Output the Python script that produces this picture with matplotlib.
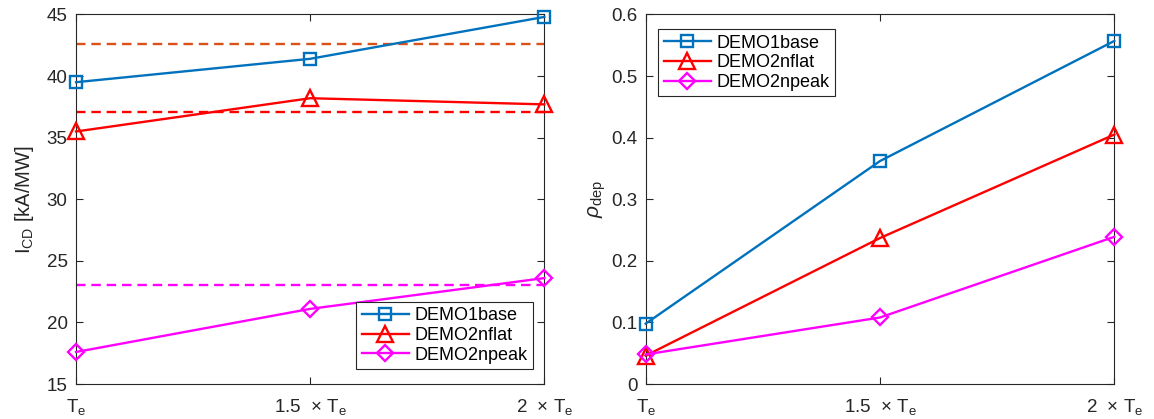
import matplotlib
matplotlib.use('Agg')
import matplotlib.pyplot as plt
import numpy as np

plt.rcParams['font.family'] = ['Liberation Sans', 'DejaVu Sans']
plt.rcParams['mathtext.fontset'] = 'custom'
plt.rcParams['mathtext.rm'] = 'Liberation Sans'
plt.rcParams['mathtext.it'] = 'Liberation Sans:italic'

# data
x = [1, 1.5, 2]
xtick_labels = [r'T$_\mathrm{e}$', r'1.5  $\times$ T$_\mathrm{e}$', r'2  $\times$ T$_\mathrm{e}$']
series = ['DEMO1base', 'DEMO2nflat', 'DEMO2npeak']
icd = {
    'DEMO1base': [39.5, 41.4, 44.8],
    'DEMO2nflat': [35.5, 38.2, 37.7],
    'DEMO2npeak': [17.6, 21.1, 23.6],
}
icd_ref = {
    'DEMO1base': 42.6,
    'DEMO2nflat': 37.1,
    'DEMO2npeak': 23.0,
}
rho = {
    'DEMO1base': [0.098, 0.362, 0.557],
    'DEMO2nflat': [0.046, 0.237, 0.405],
    'DEMO2npeak': [0.048, 0.108, 0.239],
}

colors = {'DEMO1base': '#0072BD', 'DEMO2nflat': '#FF0000', 'DEMO2npeak': '#FF00FF'}
ref_colors = {'DEMO1base': '#D95319', 'DEMO2nflat': '#FF0000', 'DEMO2npeak': '#FF00FF'}
markers = {'DEMO1base': 's', 'DEMO2nflat': '^', 'DEMO2npeak': 'D'}
msize = {'DEMO1base': 9, 'DEMO2nflat': 11, 'DEMO2npeak': 8}

axcol = '#262626'


def style_axes(ax):
    for s in ax.spines.values():
        s.set_color(axcol)
        s.set_linewidth(0.8)
    ax.tick_params(direction='in', top=True, right=True, length=5, width=0.8,
                   colors=axcol, labelsize=13.5, labelcolor=axcol, pad=6)
    ax.tick_params(axis='x', pad=9)
    ax.set_xlim(1, 2)
    ax.set_xticks(x)
    ax.set_xticklabels(xtick_labels)


fig = plt.figure(figsize=(11.54, 4.19), dpi=100)
ax1 = fig.add_axes([0.0659, 0.0835, 0.4058, 0.882])
ax2 = fig.add_axes([0.5595, 0.0835, 0.4061, 0.882])

for name in series:
    ax1.plot(x, icd[name], color=colors[name], lw=1.7, marker=markers[name],
             ms=msize[name], mfc='none', mew=1.7, label=name, clip_on=False, zorder=3)
for name in series:
    ax1.plot([1, 2], [icd_ref[name]] * 2, color=ref_colors[name], lw=1.7,
             ls=(0, (4, 2.5)), zorder=2)
ax1.set_ylim(15, 45)
ax1.set_yticks(np.arange(15, 46, 5))
ax1.set_ylabel(r'I$_\mathrm{CD}$ [kA/MW]', fontsize=14.5, color=axcol, labelpad=8)
style_axes(ax1)
leg1 = ax1.legend(loc='lower right', bbox_to_anchor=(0.975, 0.04), fontsize=13,
                  fancybox=False, edgecolor=axcol, framealpha=1, borderpad=0.3,
                  labelspacing=0.15, handlelength=2.6, handletextpad=0.3,
                  borderaxespad=0)
leg1.get_frame().set_linewidth(0.8)

for name in series:
    ax2.plot(x, rho[name], color=colors[name], lw=1.7, marker=markers[name],
             ms=msize[name], mfc='none', mew=1.7, label=name, clip_on=False, zorder=3)
ax2.set_ylim(0, 0.6)
ax2.set_yticks(np.arange(0, 0.61, 0.1))
ax2.set_yticklabels(['0', '0.1', '0.2', '0.3', '0.4', '0.5', '0.6'])
ax2.set_ylabel(r'$\rho_\mathrm{dep}$', fontsize=15, color=axcol, labelpad=2)
style_axes(ax2)
leg2 = ax2.legend(loc='upper left', bbox_to_anchor=(0.027, 0.96), fontsize=13,
                  fancybox=False, edgecolor=axcol, framealpha=1, borderpad=0.3,
                  labelspacing=0.15, handlelength=2.6, handletextpad=0.3,
                  borderaxespad=0)
leg2.get_frame().set_linewidth(0.8)

fig.savefig('out.png', dpi=100)
